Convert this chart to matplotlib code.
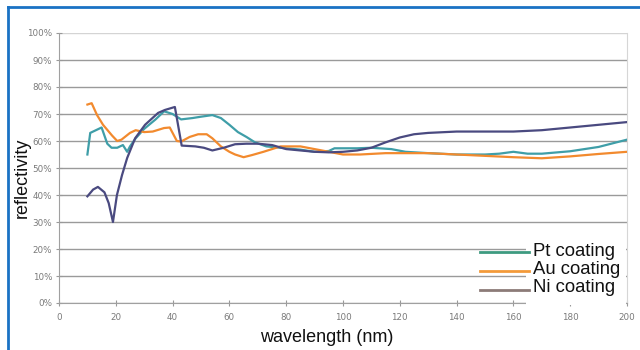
import matplotlib
matplotlib.use("Agg")
import matplotlib.pyplot as plt
from matplotlib.lines import Line2D
from matplotlib.patches import Rectangle

# ---- data ----
pt_x = [10, 11, 13, 15, 17, 18.5, 20.5, 22.5, 24, 25, 27, 30, 34, 37, 40, 43, 47, 50, 54, 57,
        60, 63, 66, 69, 73, 78, 85, 90, 95, 97, 100, 105, 110, 117, 122, 130, 140, 150, 155,
        160, 165, 170, 180, 190, 200]
pt_y = [55, 63, 64, 65, 59, 57.5, 57.5, 58.5, 56, 58, 61, 64.5, 68, 71, 70, 68, 68.5, 69, 69.6, 68.5,
        66, 63.3, 61.5, 59.5, 58, 57.5, 56.8, 56, 56.3, 57.3, 57.3, 57.3, 57.5, 57, 56, 55.5, 55, 55, 55.3,
        56, 55.3, 55.3, 56.2, 57.8, 60.5]

au_x = [10, 11.5, 13.4, 15.5, 18.7, 20.5, 22, 25, 27, 30, 33, 37, 39, 41.5, 43, 46, 49, 52, 54,
        57, 60, 62, 65, 68, 72, 78, 85, 90, 95, 100, 106, 115, 130, 140, 150, 160, 170, 180, 190, 200]
au_y = [73.5, 74, 69.6, 66, 62, 60, 60.5, 63, 64, 63.3, 63.5, 64.8, 65, 60, 59.8, 61.5, 62.5, 62.5, 61,
        58, 56, 55, 54, 54.8, 56, 58, 58, 57, 56, 55, 55, 55.5, 55.5, 55, 54.5, 54, 53.6, 54.3, 55.2, 56]

ni_x = [10, 12, 13.7, 16, 17.5, 19, 20.4, 22.2, 24, 26.8, 30.3, 34.9, 37.3, 40.8, 43.2, 48, 51, 54,
        58, 62, 66, 70, 75, 80, 90, 95, 100, 105, 110, 115, 120, 125, 130, 140, 160, 170, 180, 190, 200]
ni_y = [39.5, 42, 43, 41, 37, 30, 40, 47.4, 53.7, 61, 66, 70.4, 71.5, 72.6, 58.3, 58, 57.5, 56.5,
        57.5, 58.8, 59, 59, 58.5, 57, 56, 55.8, 56, 56.5, 57.5, 59.5, 61.3, 62.5, 63, 63.5, 63.5, 64, 65, 66, 67]

series_names = ["Pt coating", "Au coating", "Ni coating"]
x_ticks = [0, 20, 40, 60, 80, 100, 120, 140, 160, 180, 200]
y_ticks = [0, 10, 20, 30, 40, 50, 60, 70, 80, 90, 100]

line_colors = ["#3f9ea8", "#f28a2e", "#4a4a80"]
legend_colors = ["#3d9a80", "#f39a3a", "#8c7b78"]

fig = plt.figure(figsize=(6.4, 3.5), dpi=100)
W, H = 640, 350
ax = fig.add_axes([59 / W, 1 - 303 / H, (627 - 59) / W, (303 - 33) / H])

for xs, ys, c in zip([pt_x, au_x, ni_x], [pt_y, au_y, ni_y], line_colors):
    ax.plot(xs, ys, color=c, lw=1.6, zorder=3, solid_joinstyle="round")

ax.set_xlim(0, 200)
ax.set_ylim(0, 100)
ax.set_xticks(x_ticks)
ax.set_yticks(y_ticks)
ax.set_yticklabels([f"{v}%" for v in y_ticks])
ax.tick_params(axis="both", labelsize=6.3, labelcolor="#7a7a7a", colors="#999999",
               direction="inout", length=4, width=0.8)
ax.tick_params(axis="x", pad=5)
ax.tick_params(axis="y", pad=3)
for t in ax.get_xticklabels() + ax.get_yticklabels():
    t.set_family("DejaVu Sans")
ax.yaxis.grid(True, color="#9a9a9a", lw=1.0)
ax.set_axisbelow(True)
for g in ax.yaxis.get_gridlines()[-1:]:
    g.set_color("#d4d4d4")
ax.spines["top"].set_visible(False)
ax.spines["right"].set_color("#d6d6d6")
ax.spines["left"].set_color("#a0a0a0")
ax.spines["bottom"].set_color("#a0a0a0")

# legend area: white box, handles and labels
ax.add_patch(Rectangle((526 / W, 1 - 305 / H), (626 - 526) / W, (305 - 236) / H,
                       transform=fig.transFigure, facecolor="white", edgecolor="none",
                       zorder=5, clip_on=False))
for i, (name, c) in enumerate(zip(series_names, legend_colors)):
    yy = 1 - [252, 271, 290][i] / H
    fig.add_artist(Line2D([480 / W, 529 / W], [yy, yy], color=c, lw=2.0, zorder=6))
    fig.text(533 / W, 1 - [251, 269, 288][i] / H, name, fontsize=13.3, family="Liberation Sans",
             color="#111111", ha="left", va="center", zorder=7)

fig.text(327 / W, 1 - 338 / H, "wavelength (nm)", fontsize=13, family="Liberation Sans",
         color="#111111", ha="center", va="center")
fig.text(22 / W, 1 - 178 / H, "reflectivity", fontsize=13, family="Liberation Sans",
         color="#111111", ha="center", va="center", rotation=90)

# blue frame (top and left)
fig.add_artist(Line2D([8 / W, 1], [1 - 7 / H, 1 - 7 / H], color="#1a72c4", lw=2.0))
fig.add_artist(Line2D([8 / W, 8 / W], [0, 1 - 7 / H], color="#1a72c4", lw=2.0))

fig.savefig("out.png", dpi=100)
